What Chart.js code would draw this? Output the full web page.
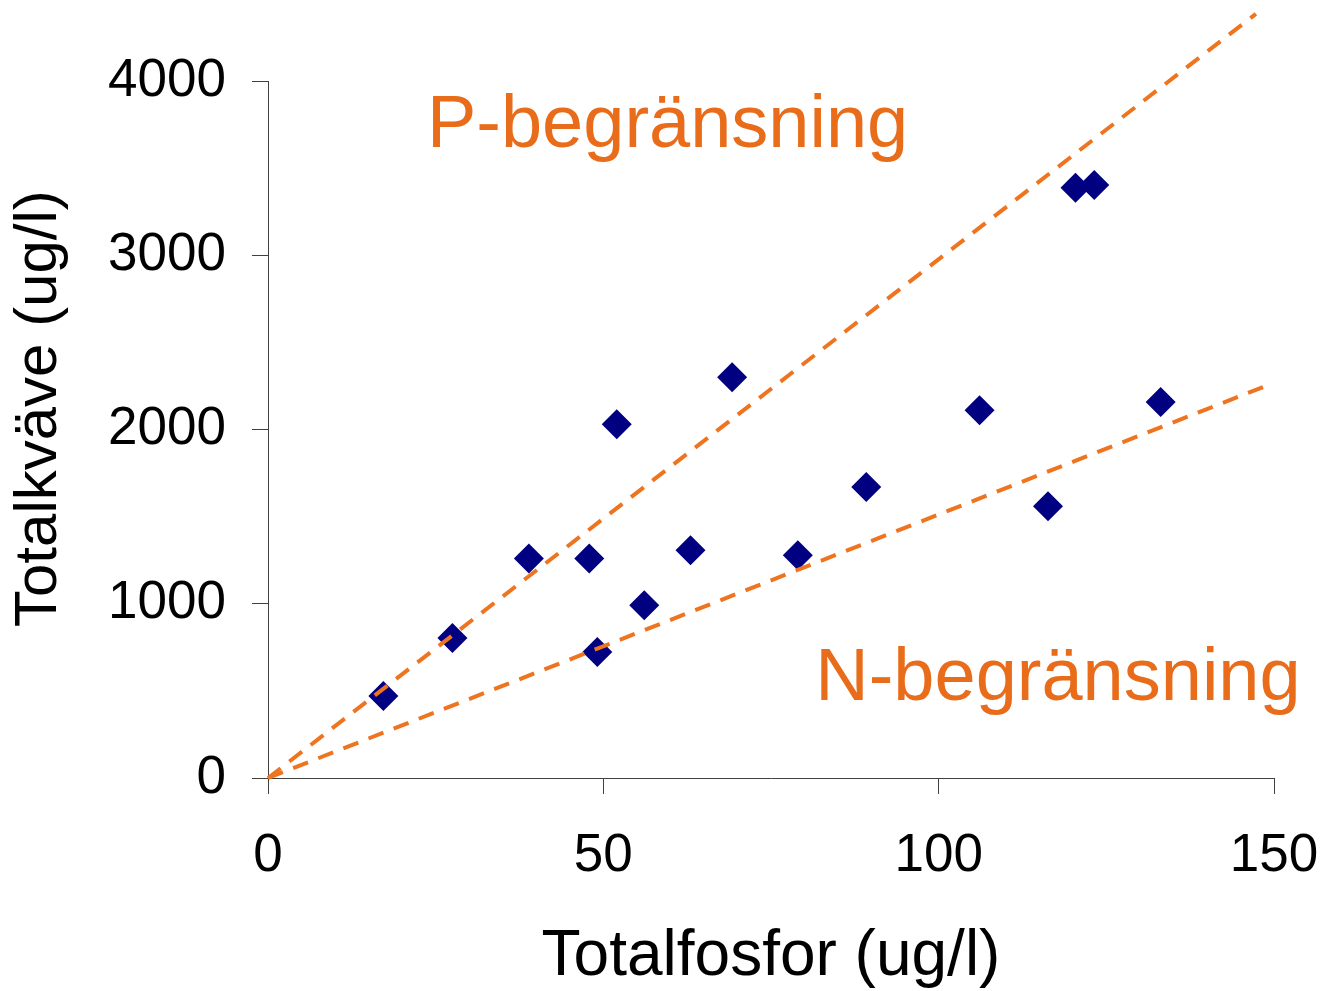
<!DOCTYPE html>
<html>
<head>
<meta charset="utf-8">
<script src="https://cdn.jsdelivr.net/npm/chart.js@4"></script>
<style>
  body { margin: 0; background: #fff; }
  canvas { display: block; }
</style>
</head>
<body>
<canvas id="chart" width="1331" height="991"></canvas>
<script>
// mätpunkter, totalfosfor (x) och totalkväve (y), ug/l
const fosfor = [17.2, 27.5, 38.9, 47.9, 49.1, 52.0, 56.1, 63.0, 69.2, 79.0, 89.2, 106.1, 116.3, 120.4, 123.2, 133.1]
const kvave = [471, 803, 1259, 1259, 723, 2030, 991, 1307, 2300, 1278, 1670, 2110, 1559, 3388, 3403, 2158]

// gränslinjer N/P
const pLineX = [0, 147.3]
const pLineY = [0, 4385]
const nLineX = [0, 148.4]
const nLineY = [0, 2244]

const xTicks = [0, 50, 100, 150]
const yTicks = [0, 1000, 2000, 3000, 4000]

const labels = ['P-begränsning', 'N-begränsning']
const yTitle = 'Totalkväve (ug/l)'

const orange = '#EE7420'
const textOrange = '#E86C1A'
const axisColor = '#404040'
const fontFamily = '"Liberation Sans", Arial, sans-serif'

function toPoints(xs, ys) {
    let pts = []
    for (const i in xs) {
        pts.push({ x: xs[i], y: ys[i] })
    }
    return pts
}

// texterna i diagrammet + y-titeln (sitter lite ovanför mitten som i originalet)
const labelPlugin = {
    id: 'areaLabels',
    afterDatasetsDraw(chart) {
        const ctx = chart.ctx
        const xs = chart.scales.x
        const ys = chart.scales.y
        const anchors = [[23.7, 3621], [81.6, 446]]
        ctx.save()
        ctx.fillStyle = textOrange
        ctx.font = '74px ' + fontFamily
        ctx.textAlign = 'left'
        ctx.textBaseline = 'alphabetic'
        labels.forEach((txt, i) => {
            ctx.fillText(txt, xs.getPixelForValue(anchors[i][0]), ys.getPixelForValue(anchors[i][1]))
        })

        ctx.translate(39, ys.getPixelForValue(2120))
        ctx.rotate(-Math.PI / 2)
        ctx.fillStyle = '#000'
        ctx.font = '60px ' + fontFamily
        ctx.textAlign = 'center'
        ctx.textBaseline = 'middle'
        ctx.fillText(yTitle, 0, 0)
        ctx.restore()
    }
}

new Chart(document.getElementById('chart'), {
    type: 'scatter',
    data: {
        datasets: [
            {
                label: 'P',
                data: toPoints(pLineX, pLineY),
                showLine: true,
                borderColor: orange,
                borderWidth: 4,
                borderDash: [16, 11],
                pointRadius: 0,
                clip: false,
                order: 0
            },
            {
                label: 'N',
                data: toPoints(nLineX, nLineY),
                showLine: true,
                borderColor: orange,
                borderWidth: 4,
                borderDash: [16, 11],
                pointRadius: 0,
                clip: false,
                order: 0
            },
            {
                label: 'Totalkväve',
                data: toPoints(fosfor, kvave),
                pointStyle: 'rectRot',
                pointRadius: 15,
                borderWidth: 0,
                backgroundColor: '#000080',
                borderColor: '#000080',
                clip: false,
                order: 1
            }
        ]
    },
    options: {
        responsive: false,
        animation: false,
        layout: { padding: { left: 0, right: 57, top: 81, bottom: 0 } },
        plugins: {
            legend: { display: false },
            tooltip: { enabled: false }
        },
        scales: {
            x: {
                type: 'linear',
                min: 0,
                max: 150,
                afterBuildTicks: (scale) => { scale.ticks = xTicks.map(v => ({ value: v })) },
                afterFit: (scale) => {
                    scale.height = 213
                    scale.paddingLeft = 0
                    scale.paddingRight = 0
                },
                border: { color: axisColor, width: 1 },
                grid: { drawOnChartArea: false, tickLength: 16, tickColor: axisColor, tickWidth: 1 },
                ticks: { color: '#000', padding: 31, font: { family: fontFamily, size: 53 } },
                title: {
                    display: true,
                    text: 'Totalfosfor (ug/l)',
                    color: '#000',
                    padding: { top: 0, bottom: -5 },
                    font: { family: fontFamily, size: 64 }
                }
            },
            y: {
                type: 'linear',
                min: 0,
                max: 4000,
                afterBuildTicks: (scale) => { scale.ticks = yTicks.map(v => ({ value: v })) },
                afterFit: (scale) => {
                    scale.width = 268
                    scale.paddingTop = 0
                    scale.paddingBottom = 0
                },
                border: { color: axisColor, width: 1 },
                grid: { drawOnChartArea: false, tickLength: 16, tickColor: axisColor, tickWidth: 1 },
                ticks: {
                    color: '#000',
                    padding: 26,
                    font: { family: fontFamily, size: 53 },
                    callback: (v) => String(v)
                }
            }
        }
    },
    plugins: [labelPlugin]
})
</script>
</body>
</html>
